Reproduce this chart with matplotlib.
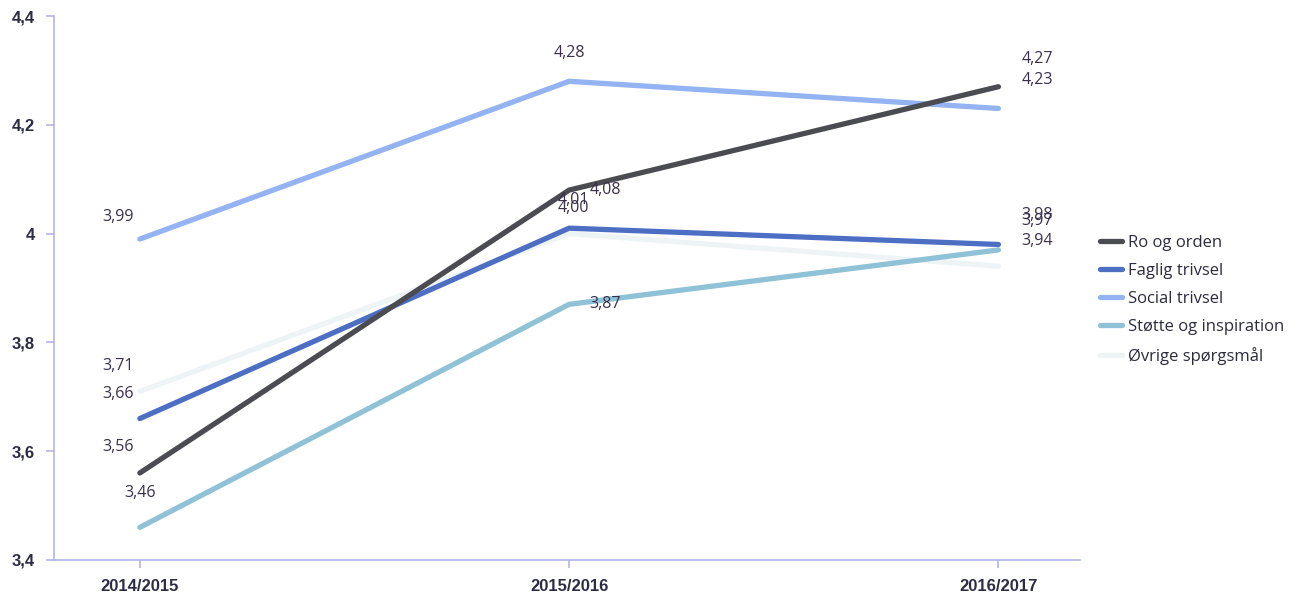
import matplotlib
matplotlib.use('Agg')
import matplotlib.pyplot as plt

years = ['2014/2015', '2015/2016', '2016/2017']
ro_og_orden = [3.56, 4.08, 4.27]
faglig_trivsel = [3.66, 4.01, 3.98]
social_trivsel = [3.99, 4.28, 4.23]
stotte_inspiration = [3.46, 3.87, 3.97]
ovrige = [3.71, 4.00, 3.94]
series_names = ['Ro og orden', 'Faglig trivsel', 'Social trivsel',
                'Støtte og inspiration', 'Øvrige spørgsmål']
y_ticks = [3.4, 3.6, 3.8, 4.0, 4.2, 4.4]

colors = ['#4b4b52', '#4c6fc4', '#93b3f2', '#8fc2d6', '#eef4f6']
# label offsets in pixels (dx, dy) per point
offsets = [
    [(-22, 26), (36, 0), (39, 28)],
    [(-22, 25), (4, 28), (39, 29)],
    [(-22, 22), (0, 28), (39, 28)],
    [(0, 34), (36, 0), (39, 29)],
    [(-22, 25), (4, 26), (39, 25)],
]

label_font = ['Open Sans', 'DejaVu Sans']
tick_font = ['Liberation Sans Narrow', 'Liberation Sans', 'DejaVu Sans']

fig = plt.figure(figsize=(13.15, 5.96), dpi=100)
ax = fig.add_axes([54 / 1315, 36 / 596, (1080 - 54) / 1315, (560 - 16) / 596])

x = list(range(len(years)))
all_series = [ro_og_orden, faglig_trivsel, social_trivsel, stotte_inspiration, ovrige]
# draw lightest first so dark lines stay on top
order = [4, 3, 2, 1, 0]
for i in order:
    ax.plot(x, all_series[i], color=colors[i], lw=3.8, solid_capstyle='round',
            label=series_names[i], zorder=3 + (4 - i))

for i, vals in enumerate(all_series):
    for j, v in enumerate(vals):
        ax.annotate(('%.2f' % v).replace('.', ','), (x[j], v),
                    xytext=offsets[i][j], textcoords='offset pixels',
                    ha='center', va='center', fontsize=11.5,
                    color='#3a3048', family=label_font, zorder=10)

ax.set_xlim(-0.2, 2.19)
ax.set_ylim(3.4, 4.4)
ax.set_xticks(x)
ax.set_xticklabels(years)
ax.set_yticks(y_ticks)
ax.set_yticklabels([('%g' % t).replace('.', ',') for t in y_ticks])
for lbl in ax.get_xticklabels() + ax.get_yticklabels():
    lbl.set_family(tick_font)
    lbl.set_fontweight('bold')
    lbl.set_fontsize(12)
    lbl.set_color('#2c2c44')

for s in ['top', 'right']:
    ax.spines[s].set_visible(False)
for s in ['left', 'bottom']:
    ax.spines[s].set_color('#b4b4e4')
    ax.spines[s].set_linewidth(1.2)
ax.tick_params(axis='both', color='#b4b4e4', length=6, width=1.2, pad=8)

handles, labels = ax.get_legend_handles_labels()
idx = [labels.index(n) for n in series_names]
leg = ax.legend([handles[k] for k in idx], [labels[k] for k in idx],
                loc='center left', bbox_to_anchor=(1.005, 0.478), frameon=False,
                prop={'family': label_font, 'size': 12}, handlelength=1.3,
                handletextpad=0.35, labelspacing=0.72)
for t in leg.get_texts():
    t.set_color('#2c2c3c')

fig.savefig('out.png', dpi=100)
